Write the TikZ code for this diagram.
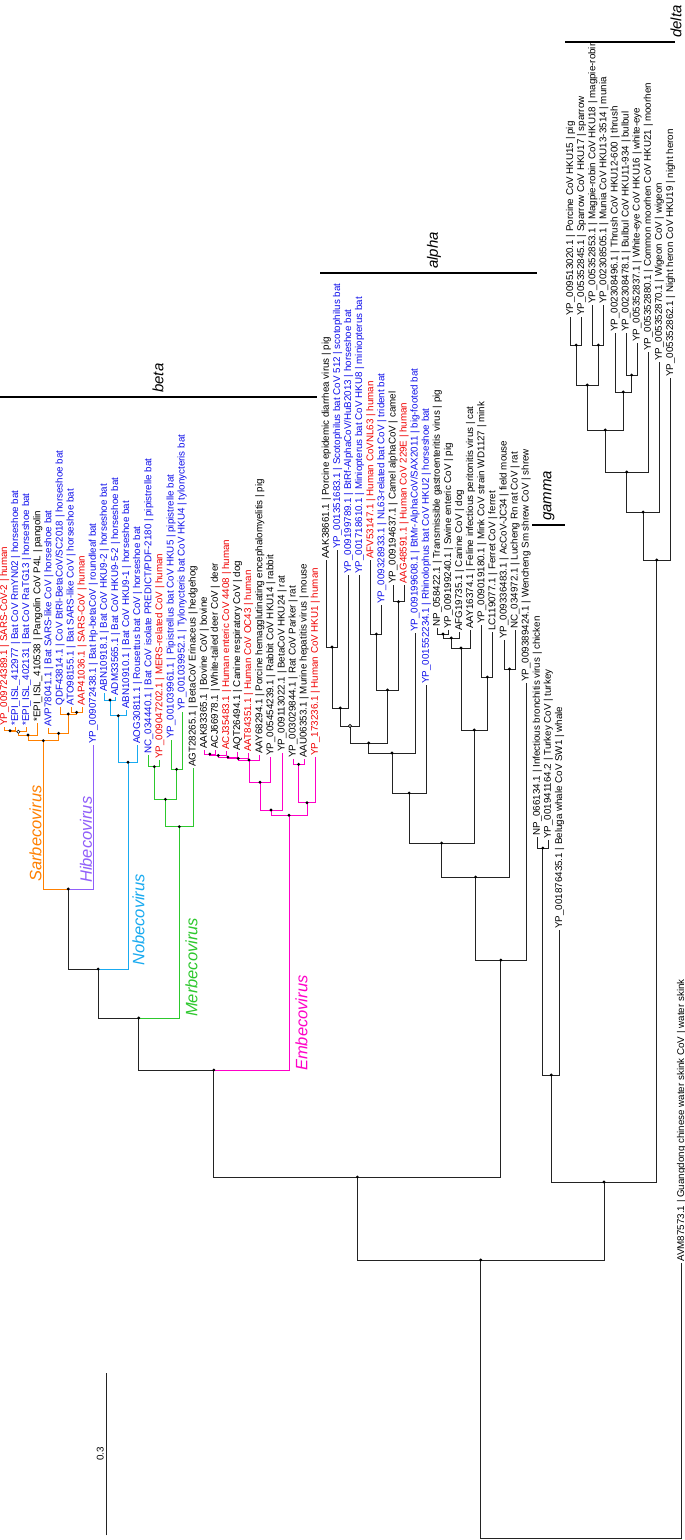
\documentclass[tikz,border=0pt]{standalone}
\usepackage{fontspec}
\setmainfont{Liberation Sans}
\usetikzlibrary{calc}
\definecolor{brk}{RGB}{35,35,35}
\definecolor{csarb}{RGB}{255,128,0}
\definecolor{chibe}{RGB}{145,95,250}
\definecolor{cnobe}{RGB}{25,170,240}
\definecolor{cmerb}{RGB}{45,200,45}
\definecolor{cembe}{RGB}{255,0,200}
\definecolor{tred}{RGB}{240,0,0}
\definecolor{tblue}{RGB}{15,15,235}
\newcommand\nd[4]{\coordinate (#1m) at ($(#2)!.5!(#3)$);\coordinate (#1) at (#1m |- 0,#4);}
\newcommand\ed[3]{\draw[br,draw=#1] (#2) |- (#3);}
\newcommand\dt[1]{\fill[black] (#1) circle[radius=1.6pt];}
\newcommand\od[1]{\filldraw[fill=white,draw=black,line width=0.6pt] (#1) circle[radius=1.6pt];}
\begin{document}
\begin{tikzpicture}[x=1pt,y=-1pt,
 br/.style={line width=0.9pt,line cap=rect},
 tl/.style={rotate=90,anchor=west,inner sep=1.2pt,font=\fontsize{9.8}{10}\selectfont},
 cl/.style={rotate=90,anchor=west,inner sep=0pt,font=\fontsize{16.5}{18}\selectfont\itshape},
 gl/.style={rotate=90,anchor=west,inner sep=0pt,font=\fontsize{15}{17}\selectfont\itshape},
 cbar/.style={line width=2.6pt,draw=black}]
\useasboundingbox (0,0) rectangle (685,1540);
\fill[white] (0,0) rectangle (685,1540);
% ---------------- tips
\coordinate (t1) at (4.5,727);
\coordinate (t2) at (15.6,727);
\coordinate (t3) at (26.7,727);
\coordinate (t4) at (37.8,723);
\coordinate (t5) at (48.9,728);
\coordinate (t6) at (60.0,707);
\coordinate (t7) at (71.1,707);
\coordinate (t8) at (82.2,707);
\coordinate (t9) at (93.3,745);
\coordinate (t10) at (104.4,693);
\coordinate (t11) at (115.5,697);
\coordinate (t12) at (126.6,710);
\coordinate (t13) at (137.7,745);
\coordinate (t14) at (148.8,755);
\coordinate (t15) at (159.9,760);
\coordinate (t16) at (171.0,740);
\coordinate (t17) at (182.1,712);
\coordinate (t18) at (193.2,768);
\coordinate (t19) at (204.3,750);
\coordinate (t20) at (215.4,750);
\coordinate (t21) at (226.5,751);
\coordinate (t22) at (237.6,752);
\coordinate (t23) at (248.7,753);
\coordinate (t24) at (259.8,755);
\coordinate (t25) at (270.9,757);
\coordinate (t26) at (282.0,753);
\coordinate (t27) at (293.1,759);
\coordinate (t28) at (304.2,759);
\coordinate (t29) at (315.3,757);
\coordinate (t30) at (326.4,560);
\coordinate (t31) at (337.5,550);
\coordinate (t32) at (348.6,575);
\coordinate (t33) at (359.7,575);
\coordinate (t34) at (370.8,560);
\coordinate (t35) at (381.9,605);
\coordinate (t36) at (393.0,585);
\coordinate (t37) at (404.1,585);
\coordinate (t38) at (415.2,633);
\coordinate (t39) at (426.3,685);
\coordinate (t40) at (437.4,628);
\coordinate (t41) at (448.5,630);
\coordinate (t42) at (459.6,632);
\coordinate (t43) at (470.7,630);
\coordinate (t44) at (481.8,625);
\coordinate (t45) at (492.9,632);
\coordinate (t46) at (504.0,640);
\coordinate (t47) at (515.1,630);
\coordinate (t48) at (526.2,683);
\coordinate (t49) at (537.3,837);
\coordinate (t50) at (548.4,840);
\coordinate (t51) at (559.5,930);
\coordinate (t52) at (570.6,317);
\coordinate (t53) at (581.7,317);
\coordinate (t54) at (592.8,305);
\coordinate (t55) at (603.9,305);
\coordinate (t56) at (615.0,333);
\coordinate (t57) at (626.1,333);
\coordinate (t58) at (637.2,343);
\coordinate (t59) at (648.3,352);
\coordinate (t60) at (659.4,362);
\coordinate (t61) at (670.5,378);
\coordinate (t62) at (681.6,1263);
% ---------------- internal nodes
\nd{a12}{t1}{t2}{730.7}
\nd{a123}{a12}{t3}{731.7}
\nd{a4}{a123}{t4}{735}
\nd{a78}{t7}{t8}{712.3}
\nd{a6}{t6}{a78}{714}
\nd{a5}{t5}{a6}{733.3}
\nd{sarbr}{a4}{a5}{740.7}
\nd{sh}{sarbr}{t9}{889}
\nd{n1}{t10}{t11}{700}
\nd{n2}{n1}{t12}{715.7}
\nd{nobr}{n2}{t13}{762.3}
\nd{nb}{sh}{nobr}{969}
\nd{m1}{t14}{t15}{766.7}
\nd{m2}{t16}{t17}{769.3}
\nd{m3}{m1}{m2}{799.3}
\nd{merbr}{m3}{t18}{826.7}
\nd{mb}{nb}{merbr}{1018}
\nd{e1}{t19}{t20}{754}
\nd{e2}{e1}{t21}{755.5}
\nd{e3}{e2}{t22}{757}
\nd{e4}{e3}{t23}{758.5}
\nd{e5}{e4}{t24}{760}
\nd{e6}{e5}{t25}{782.3}
\nd{e7}{e6}{t26}{810}
\nd{e8}{t27}{t28}{764.3}
\nd{e9}{e8}{t29}{802.7}
\nd{embr}{e7}{e9}{815.3}
\nd{broot}{mb}{embr}{1070}
\nd{al1}{t30}{t31}{647}
\nd{al2}{al1}{t32}{708}
\nd{al3}{al2}{t33}{726}
\nd{al4}{t34}{t35}{634}
\nd{al5}{t36}{t37}{601.7}
\nd{al6}{al4}{al5}{690}
\nd{al7}{al3}{al6}{743}
\nd{al8}{al7}{t38}{753}
\nd{al9}{al8}{t39}{793}
\nd{b1}{t40}{t41}{634}
\nd{b2}{b1}{t42}{638}
\nd{b3}{b2}{t43}{648}
\nd{b4}{t44}{t45}{677}
\nd{b5}{b3}{b4}{730}
\nd{al10}{al9}{b5}{843}
\nd{c1}{t46}{t47}{669}
\nd{al11}{al10}{c1}{877}
\nd{aroot}{al11}{t48}{960}
\nd{ba}{broot}{aroot}{1177}
\nd{g1}{t49}{t50}{848}
\nd{groot}{g1}{t51}{1075}
\nd{d1}{t52}{t53}{345}
\nd{d2}{t54}{t55}{345}
\nd{d3}{d1}{d2}{385}
\nd{d4}{t57}{t58}{375}
\nd{d5}{t56}{d4}{392}
\nd{d6}{d3}{d5}{430}
\nd{d7}{d6}{t59}{472}
\nd{d8}{d7}{t60}{512}
\nd{droot}{d8}{t61}{560}
\nd{gd}{groot}{droot}{1182}
\nd{ing}{ba}{gd}{1260}
\nd{root}{ing}{t62}{1538}
% ---------------- edges
\ed{csarb}{t1}{a12}\ed{csarb}{t2}{a12}
\ed{csarb}{a12}{a123}\ed{csarb}{t3}{a123}
\ed{csarb}{a123}{a4}\ed{csarb}{t4}{a4}
\ed{csarb}{t7}{a78}\ed{csarb}{t8}{a78}
\ed{csarb}{t6}{a6}\ed{csarb}{a78}{a6}
\ed{csarb}{t5}{a5}\ed{csarb}{a6}{a5}
\ed{csarb}{a4}{sarbr}\ed{csarb}{a5}{sarbr}
\ed{csarb}{sarbr}{sh}\ed{chibe}{t9}{sh}
\ed{cnobe}{t10}{n1}\ed{cnobe}{t11}{n1}
\ed{cnobe}{n1}{n2}\ed{cnobe}{t12}{n2}
\ed{cnobe}{n2}{nobr}\ed{cnobe}{t13}{nobr}
\ed{brk}{sh}{nb}\ed{cnobe}{nobr}{nb}
\ed{cmerb}{t14}{m1}\ed{cmerb}{t15}{m1}
\ed{cmerb}{t16}{m2}\ed{cmerb}{t17}{m2}
\ed{cmerb}{m1}{m3}\ed{cmerb}{m2}{m3}
\ed{cmerb}{m3}{merbr}\ed{cmerb}{t18}{merbr}
\ed{brk}{nb}{mb}\ed{cmerb}{merbr}{mb}
\ed{cembe}{t19}{e1}\ed{cembe}{t20}{e1}
\ed{cembe}{e1}{e2}\ed{cembe}{t21}{e2}
\ed{cembe}{e2}{e3}\ed{cembe}{t22}{e3}
\ed{cembe}{e3}{e4}\ed{cembe}{t23}{e4}
\ed{cembe}{e4}{e5}\ed{cembe}{t24}{e5}
\ed{cembe}{e5}{e6}\ed{cembe}{t25}{e6}
\ed{cembe}{e6}{e7}\ed{cembe}{t26}{e7}
\ed{cembe}{t27}{e8}\ed{cembe}{t28}{e8}
\ed{cembe}{e8}{e9}\ed{cembe}{t29}{e9}
\ed{cembe}{e7}{embr}\ed{cembe}{e9}{embr}
\ed{brk}{mb}{broot}\ed{cembe}{embr}{broot}
\ed{brk}{t30}{al1}\ed{brk}{t31}{al1}
\ed{brk}{al1}{al2}\ed{brk}{t32}{al2}
\ed{brk}{al2}{al3}\ed{brk}{t33}{al3}
\ed{brk}{t34}{al4}\ed{brk}{t35}{al4}
\ed{brk}{t36}{al5}\ed{brk}{t37}{al5}
\ed{brk}{al4}{al6}\ed{brk}{al5}{al6}
\ed{brk}{al3}{al7}\ed{brk}{al6}{al7}
\ed{brk}{al7}{al8}\ed{brk}{t38}{al8}
\ed{brk}{al8}{al9}\ed{brk}{t39}{al9}
\ed{brk}{t40}{b1}\ed{brk}{t41}{b1}
\ed{brk}{b1}{b2}\ed{brk}{t42}{b2}
\ed{brk}{b2}{b3}\ed{brk}{t43}{b3}
\ed{brk}{t44}{b4}\ed{brk}{t45}{b4}
\ed{brk}{b3}{b5}\ed{brk}{b4}{b5}
\ed{brk}{al9}{al10}\ed{brk}{b5}{al10}
\ed{brk}{t46}{c1}\ed{brk}{t47}{c1}
\ed{brk}{al10}{al11}\ed{brk}{c1}{al11}
\ed{brk}{al11}{aroot}\ed{brk}{t48}{aroot}
\ed{brk}{broot}{ba}\ed{brk}{aroot}{ba}
\ed{brk}{t49}{g1}\ed{brk}{t50}{g1}
\ed{brk}{g1}{groot}\ed{brk}{t51}{groot}
\ed{brk}{t52}{d1}\ed{brk}{t53}{d1}
\ed{brk}{t54}{d2}\ed{brk}{t55}{d2}
\ed{brk}{d1}{d3}\ed{brk}{d2}{d3}
\ed{brk}{t57}{d4}\ed{brk}{t58}{d4}
\ed{brk}{t56}{d5}\ed{brk}{d4}{d5}
\ed{brk}{d3}{d6}\ed{brk}{d5}{d6}
\ed{brk}{d6}{d7}\ed{brk}{t59}{d7}
\ed{brk}{d7}{d8}\ed{brk}{t60}{d8}
\ed{brk}{d8}{droot}\ed{brk}{t61}{droot}
\ed{brk}{groot}{gd}\ed{brk}{droot}{gd}
\ed{brk}{ba}{ing}\ed{brk}{gd}{ing}
\ed{brk}{ing}{root}\ed{brk}{t62}{root}
% ---------------- dots
\foreach \n in {a12,a4,a78,a6,a5,sarbr,sh,n1,n2,nobr,nb,m1,m2,m3,merbr,mb,
 e1,e2,e3,e4,e5,e6,e7,e8,e9,embr,broot,al1,al2,al4,al5,al6,al7,al8,al9,
 b1,b2,b3,b4,b5,al10,c1,al11,aroot,ba,g1,groot,d1,d2,d3,d4,d5,d6,d7,d8,droot,gd,ing}
 {\dt{\n}}
\od{a123}\od{al3}
% ---------------- tip labels
\node[tl,text=tred] (l1) at (t1) {YP\_009724389.1 | SARS-CoV-2 | human};
\node[tl,text=tblue] (l2) at (t2) {*EPI\_ISL\_412977 | Bat CoV RmYN02 | horseshoe bat};
\node[tl,text=tblue] (l3) at (t3) {*EPI\_ISL\_402131 | Bat CoV RaTG13 | horseshoe bat};
\node[tl] (l4) at (t4) {*EPI\_ISL\_410538 | Pangolin CoV P4L | pangolin};
\node[tl,text=tblue] (l5) at (t5) {AVP78041.1 | Bat SARS-like CoV | horseshoe bat};
\node[tl,text=tblue] (l6) at (t6) {QDF43814.1 | CoV BtRl-BetaCoV/SC2018 | horseshoe bat};
\node[tl,text=tblue] (l7) at (t7) {ATO98155.1 | Bat SARS-like CoV | horseshoe bat};
\node[tl,text=tred] (l8) at (t8) {AAP41036.1 | SARS-CoV | human};
\node[tl,text=tblue] (l9) at (t9) {YP\_009072438.1 | Bat Hp-betaCoV | roundleaf bat};
\node[tl,text=tblue] (l10) at (t10) {ABN10918.1 | Bat CoV HKU9-2 | horseshoe bat};
\node[tl,text=tblue] (l11) at (t11) {ADM33565.1 | Bat CoV HKU9-5-2 | horseshoe bat};
\node[tl,text=tblue] (l12) at (t12) {ABN10910.1 | Bat CoV HKU9-1 | horseshoe bat};
\node[tl,text=tblue] (l13) at (t13) {AOG30811.1 | Rousettus bat CoV | horseshoe bat};
\node[tl,text=tblue] (l14) at (t14) {NC\_034440.1 | Bat CoV isolate PREDICT/PDF-2180 | pipistrelle bat};
\node[tl,text=tred] (l15) at (t15) {YP\_009047202.1 | MERS-related CoV | human};
\node[tl,text=tblue] (l16) at (t16) {YP\_001039961.1 | Pipistrellus bat CoV HKU5 | pipistrelle bat};
\node[tl,text=tblue] (l17) at (t17) {YP\_001039952.1 | Tylonycteris bat CoV HKU4 | tylonycteris bat};
\node[tl] (l18) at (t18) {AGT28265.1 | BetaCoV Erinaceus | hedgehog};
\node[tl] (l19) at (t19) {AAK83365.1 | Bovine CoV | bovine};
\node[tl] (l20) at (t20) {ACJ66978.1 | White-tailed deer CoV | deer};
\node[tl,text=tred] (l21) at (t21) {ACJ35483.1 | Human enteric CoV 4408 | human};
\node[tl] (l22) at (t22) {AQT26494.1 | Canine respiratory CoV | dog};
\node[tl,text=tred] (l23) at (t23) {AAT84351.1 | Human CoV OC43 | human};
\node[tl] (l24) at (t24) {AAY68294.1 | Porcine hemagglutinating encephalomyelitis | pig};
\node[tl] (l25) at (t25) {YP\_005454239.1 | Rabbit CoV HKU14 | rabbit};
\node[tl] (l26) at (t26) {YP\_009113022.1 | BetaCoV HKU24 | rat};
\node[tl] (l27) at (t27) {YP\_003029844.1 | Rat CoV Parker | rat};
\node[tl] (l28) at (t28) {AAU06353.1 | Murine hepatitis virus | mouse};
\node[tl,text=tred] (l29) at (t29) {YP\_173236.1 | Human CoV HKU1 | human};
\node[tl] (l30) at (t30) {AAK38661.1 | Porcine epidemic diarrhea virus | pig};
\node[tl,text=tblue] (l31) at (t31) {YP\_001351683.1 | Scotophilus bat CoV 512 | scotophilus bat};
\node[tl,text=tblue] (l32) at (t32) {YP\_009199789.1 | BtRf-AlphaCoV/HuB2013 | horseshoe bat};
\node[tl,text=tblue] (l33) at (t33) {YP\_001718610.1 | Miniopterus bat CoV HKU8 | miniopterus bat};
\node[tl,text=tred] (l34) at (t34) {AFV53147.1 | Human CoVNL63 | human};
\node[tl,text=tblue] (l35) at (t35) {YP\_009328933.1 | NL63-related bat CoV | trident bat};
\node[tl] (l36) at (t36) {YP\_009194637.1 | Camel alphaCoV | camel};
\node[tl,text=tred] (l37) at (t37) {AAG48591.1 | Human CoV 229E | human};
\node[tl,text=tblue] (l38) at (t38) {YP\_009199608.1 | BtMr-AlphaCoV/SAX2011 | big-footed bat};
\node[tl,text=tblue] (l39) at (t39) {YP\_001552234.1 | Rhinolophus bat CoV HKU2 | horseshoe bat};
\node[tl] (l40) at (t40) {NP\_058422.1 | Transmissible gastroenteritis virus | pig};
\node[tl] (l41) at (t41) {YP\_009199240.1 | Swine enteric CoV | pig};
\node[tl] (l42) at (t42) {AFG19735.1 | Canine CoV | dog};
\node[tl] (l43) at (t43) {AAY16374.1 | Feline infectious peritonitis virus | cat};
\node[tl] (l44) at (t44) {YP\_009019180.1 | Mink CoV strain WD1127 | mink};
\node[tl] (l45) at (t45) {LC119077.1 | Ferret CoV | ferret};
\node[tl] (l46) at (t46) {YP\_009336483.1 | AcCoV-JC34 | field mouse};
\node[tl] (l47) at (t47) {NC\_034972.1 | Lucheng Rn rat CoV | rat};
\node[tl] (l48) at (t48) {YP\_009389424.1 | Wencheng Sm shrew CoV | shrew};
\node[tl] (l49) at (t49) {NP\_066134.1 | Infectious bronchitis virus | chicken};
\node[tl] (l50) at (t50) {YP\_001941164.2 | Turkey CoV | turkey};
\node[tl] (l51) at (t51) {YP\_001876435.1 | Beluga whale CoV SW1 | whale};
\node[tl] (l52) at (t52) {YP\_009513020.1 | Porcine CoV HKU15 | pig};
\node[tl] (l53) at (t53) {YP\_005352845.1 | Sparrow CoV HKU17 | sparrow};
\node[tl] (l54) at (t54) {YP\_005352853.1 | Magpie-robin CoV HKU18 | magpie-robin};
\node[tl] (l55) at (t55) {YP\_002308505.1 | Munia CoV HKU13-3514 | munia};
\node[tl] (l56) at (t56) {YP\_002308496.1 | Thrush CoV HKU12-600 | thrush};
\node[tl] (l57) at (t57) {YP\_002308478.1 | Bulbul CoV HKU11-934 | bulbul};
\node[tl] (l58) at (t58) {YP\_005352837.1 | White-eye CoV HKU16 | white-eye};
\node[tl] (l59) at (t59) {YP\_005352880.1 | Common moorhen CoV HKU21 | moorhen};
\node[tl] (l60) at (t60) {YP\_005352870.1 | Wigeon CoV | wigeon};
\node[tl] (l61) at (t61) {YP\_005352862.1 | Night heron CoV HKU19 | night heron};
\node[tl] (l62) at (t62) {AVM87573.1 | Guangdong chinese water skink CoV | water skink};
% ---------------- clade labels
\node[cl,text=csarb] (sarbl) at (35.5,882) {Sarbecovirus};
\node[cl,text=chibe] (hibel) at (86,883) {Hibecovirus};
\node[cl,text=cnobe] (nobel) at (138.5,966) {Nobecovirus};
\node[cl,text=cmerb] (merbl) at (191.5,1017) {Merbecovirus};
\node[cl,text=cembe] (embel) at (301.5,1071) {Embecovirus};
% ---------------- genus bars
\coordinate (bb1) at (0,397);\coordinate (bb2) at (317,397);
\draw[cbar] (bb1) -- (bb2);
\node[gl] (betal) at (158,393) {beta};
\coordinate (ab1) at (320,273);\coordinate (ab2) at (537,273);
\draw[cbar] (ab1) -- (ab2);
\node[gl] (alphal) at (434,269) {alpha};
\coordinate (gb1) at (532,525);\coordinate (gb2) at (565,525);
\draw[cbar] (gb1) -- (gb2);
\node[gl] (gammal) at (549,521) {gamma};
\coordinate (db1) at (565,42);\coordinate (db2) at (675,42);
\draw[cbar] (db1) -- (db2);
\node[gl] (deltal) at (676,38) {delta};
% ---------------- scale bar
\coordinate (sb1) at (106,1373);\coordinate (sb2) at (106,1535);
\draw[br,draw=brk] (sb1) -- (sb2);
\node[rotate=90,anchor=south,inner sep=2pt,font=\fontsize{9.8}{10}\selectfont] (sbl) at ($(sb1)!.5!(sb2)$) {0.3};
\end{tikzpicture}
\end{document}
